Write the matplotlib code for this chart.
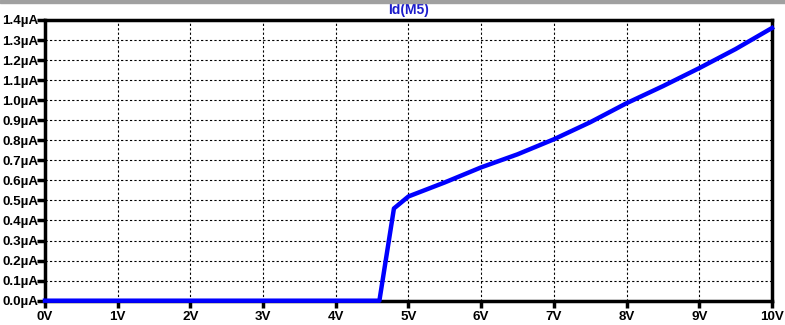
import matplotlib.pyplot as plt
from matplotlib.patches import Rectangle
from matplotlib.ticker import FuncFormatter, MultipleLocator

# Id(M5) vs V (µA)
vgs = [0.0, 4.6, 4.8, 5.0, 5.5, 6.0, 6.5, 7.0, 7.5, 8.0, 8.5, 9.0, 9.5, 10.0]
id_ua = [0.0, 0.0, 0.46, 0.52, 0.59, 0.665, 0.73, 0.805, 0.89, 0.985, 1.07, 1.16, 1.255, 1.36]

plt.rcParams['font.family'] = ['Liberation Sans', 'DejaVu Sans']

fig = plt.figure(figsize=(7.85, 3.25), dpi=100)
ax = fig.add_axes([0.0573, 0.0748, 0.9261, 0.8637])

# thin grey strip along the top of the window
fig.patches.append(Rectangle((0, 0.992), 1, 0.008, transform=fig.transFigure,
                             color='#a0a0a0', zorder=0))

ax.plot(vgs, id_ua, color='#0000ff', linewidth=3.2, clip_on=False, zorder=3)

ax.set_xlim(0, 10)
ax.set_ylim(0, 1.4)
ax.xaxis.set_major_locator(MultipleLocator(1))
ax.yaxis.set_major_locator(MultipleLocator(0.1))
ax.xaxis.set_major_formatter(FuncFormatter(lambda v, p: f'{v:.0f}V'))
ax.yaxis.set_major_formatter(FuncFormatter(lambda v, p: f'{v:.1f}\u00b5A'))

ax.grid(True, color='black', linestyle=(0, (2, 2)), linewidth=0.8)
ax.tick_params(axis='both', direction='out', width=2.5, labelsize=9.6)
ax.tick_params(axis='y', length=6, pad=-1)
ax.tick_params(axis='x', length=5, pad=2.5)
for lbl in ax.get_xticklabels() + ax.get_yticklabels():
    lbl.set_fontweight('bold')
for sp in ax.spines.values():
    sp.set_linewidth(2.5)

ax.set_title('Id(M5)', color='#1c1ccc', fontweight='bold', fontsize=10, pad=4.5)

plt.savefig('out.png', dpi=100)
